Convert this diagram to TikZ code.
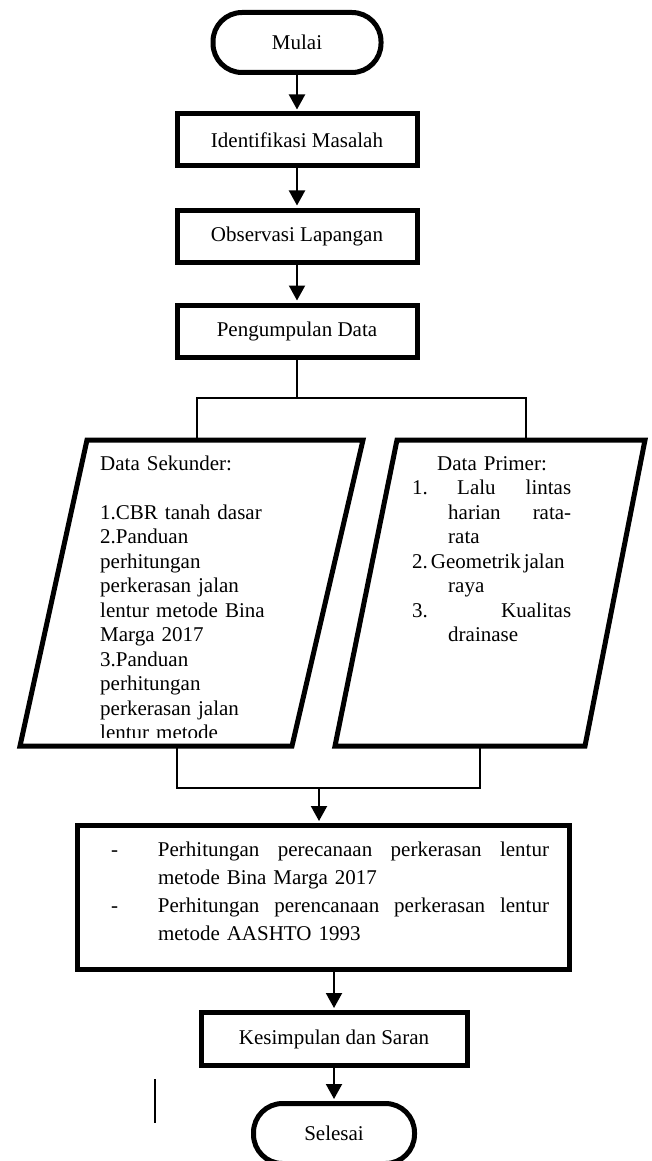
\documentclass[tikz,border=0pt]{standalone}
\usepackage{fontspec}
\setmainfont{Liberation Serif}
\usetikzlibrary{arrows.meta}

\begin{document}
\begin{tikzpicture}[x=1pt, y=-1pt,
  every node/.style={font=\fontsize{21}{24.5}\selectfont, inner sep=4pt},
  term/.style={draw, line width=5pt, rounded corners=29pt, minimum width=168pt, minimum height=60pt},
  procbox/.style={draw, line width=5pt, minimum width=240pt, minimum height=52pt},
  paraline/.style={line width=5pt, line join=miter},
  arrowline/.style={line width=2pt, shorten >=2pt, -{Triangle[width=16pt, length=15pt]}},
  linkline/.style={line width=2pt},
  bodytext/.style={anchor=base west, align=left, inner sep=0pt}]

\useasboundingbox (0,0) rectangle (652,1161);

\node[term] (mulai) at (297,42.5) {Mulai};
\foreach \name/\y/\txt in {iden/140/Identifikasi Masalah, obs/236/Observasi Lapangan, kumpul/331/Pengumpulan Data}
  \node[procbox] (\name) at (297,\y) {\txt};

\coordinate (sekNW) at (87,440);
\coordinate (sekNE) at (363,440);
\coordinate (sekSE) at (292,746);
\coordinate (sekSW) at (20,746);
\coordinate (primNW) at (397,440);
\coordinate (primNE) at (645,440);
\coordinate (primSE) at (585,746);
\coordinate (primSW) at (335,746);
\draw[paraline] (sekNW) -- (sekNE) -- (sekSE) -- (sekSW) -- cycle;
\draw[paraline] (primNW) -- (primNE) -- (primSE) -- (primSW) -- cycle;

\begin{scope}
\clip (0,430) rectangle (380,737);
\node[bodytext, text width=250pt] (sektxt) at (100,470) {Data Sekunder:\\[24.5pt]
1.CBR tanah dasar\\
2.Panduan\\
perhitungan\\
perkerasan jalan\\
lentur metode Bina\\
Marga 2017\\
3.Panduan\\
perhitungan\\
perkerasan jalan\\
lentur metode};
\end{scope}

\node[bodytext, text width=159pt] (primtxt) at (412,470) {\hspace*{25pt}Data Primer:\\
\makebox[45pt][l]{1.}Lalu\hfill lintas\\
\hspace*{36pt}harian\hfill rata-\\
\hspace*{36pt}rata\\
\makebox[159pt][l]{2.\hspace{3pt}Geometrik\hspace{3pt}jalan}\\
\hspace*{36pt}raya\\
3.\hfill Kualitas\\
\hspace*{36pt}drainase};

\node[procbox, minimum width=492pt, minimum height=144pt, text width=451pt, align=left, font=\fontsize{21}{28}\selectfont] (hitung) at (323.5,897.5) {\hspace*{13pt}\makebox[47pt][l]{-}Perhitungan\hfill perecanaan\hfill perkerasan\hfill lentur\\
\hspace*{60pt}metode Bina Marga 2017\\
\hspace*{13pt}\makebox[47pt][l]{-}Perhitungan\hfill perencanaan\hfill perkerasan\hfill lentur\\
\hspace*{60pt}metode AASHTO 1993\rule[-12pt]{0pt}{12pt}};

\node[procbox, minimum width=266pt, minimum height=53pt] (simpul) at (334,1039) {Kesimpulan dan Saran};
\node[term, minimum width=161pt] (selesai) at (334,1133.5) {Selesai};

\coordinate (split) at (297,398);
\coordinate (sekin) at (197,440);
\coordinate (primin) at (526,440);
\coordinate (sekout) at (177,746);
\coordinate (primout) at (480,746);
\coordinate (join) at (319,788);
\coordinate (tickA) at (155,1079);
\coordinate (tickB) at (155,1123);

\draw[arrowline] (mulai) -- (iden);
\draw[arrowline] (iden) -- (obs);
\draw[arrowline] (obs) -- (kumpul);
\draw[linkline] (kumpul) -- (split);
\draw[linkline] (sekin) |- (split) -| (primin);
\draw[linkline] (sekout) |- (join) -| (primout);
\draw[arrowline] (join) -- (join |- hitung.north);
\draw[arrowline] (hitung.south -| simpul) -- (simpul);
\draw[arrowline] (simpul) -- (selesai);
\draw[line width=1.5pt] (tickA) -- (tickB);

\end{tikzpicture}
\end{document}
